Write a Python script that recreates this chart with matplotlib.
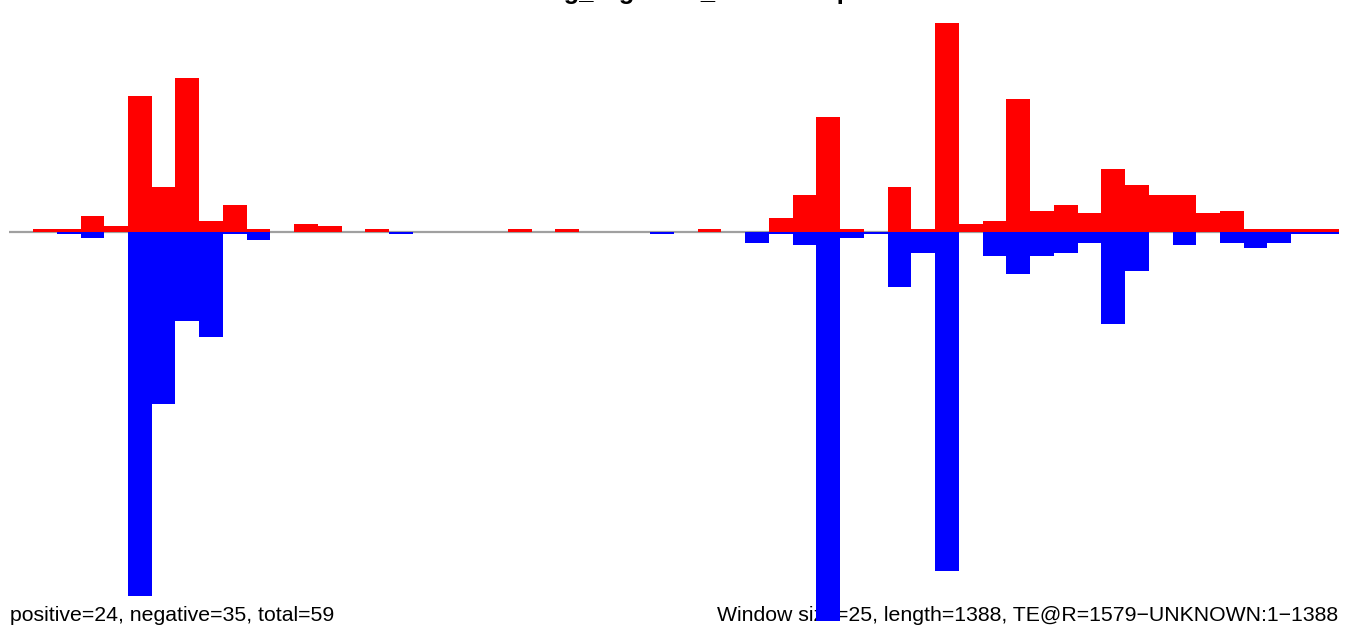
import matplotlib
matplotlib.use("Agg")
import matplotlib.pyplot as plt
import numpy as np

plt.rcParams['font.family'] = ['Liberation Sans', 'DejaVu Sans']

window_size = 25
seq_length = 1388

# positive-strand signal per window (red, above zero)
positive = [0, 1, 1, 5.6, 2.1, 47.7, 15.7, 53.9, 3.75, 9.4,
            1, 0, 2.7, 2.0, 0, 1, 0, 0, 0, 0,
            0, 1, 0, 1, 0, 0, 0, 0, 0, 1,
            0, 0, 4.8, 12.9, 40.2, 1, 0, 15.7, 1, 73.2,
            2.7, 3.75, 46.6, 7.3, 9.4, 6.6, 22.0, 16.4, 12.9, 12.9,
            6.6, 7.3, 1, 1, 1, 1]
# negative-strand signal per window (blue, below zero)
negative = [0, 0, 1, 2.1, 0, 128.0, 60.4, 31.2, 36.8, 1,
            2.9, 0, 0, 0, 0, 0, 1, 0, 0, 0,
            0, 0, 0, 0, 0, 0, 0, 1, 0, 0,
            0, 4.0, 1, 4.6, 136.5, 2.1, 1, 19.3, 7.4, 119.0,
            0, 8.4, 14.7, 8.4, 7.4, 3.9, 32.3, 13.7, 0, 4.6,
            0, 3.9, 5.6, 3.9, 1, 1]

title = "Strong_BigHitsA_TEbinsmap"
left_note = "positive=24, negative=35, total=59"
right_note = "Window size=25, length=1388, TE@R=1579\u2212UNKNOWN:1\u22121388"

W, H = 1350, 634
fig = plt.figure(figsize=(W / 100, H / 100), dpi=100)
ax = fig.add_axes([9.3 / W, 1 - 620.7 / H, (1338.7 - 9.3) / W, (620.7 - 23) / H])
ax.patch.set_visible(False)

starts = np.arange(len(positive)) * window_size
pos = np.array(positive)
neg = -np.array(negative)

ax.axhline(0, color='#a0a0a0', lw=1.6, zorder=1)
ax.bar(starts, pos, width=window_size, align='edge', color='#ff0000', lw=0, zorder=2)
ax.bar(starts, neg, width=window_size, align='edge', color='#0000ff', lw=0, zorder=2)

ax.set_xlim(0, len(positive) * window_size)
ax.set_ylim(neg.min(), pos.max())
ax.axis('off')

fs = 21.3 * 72 / 100
ax.text(10 / W, 1 - 621 / H, left_note, transform=fig.transFigure, fontsize=fs,
        ha='left', va='baseline', zorder=0, clip_on=False)
ax.text(1338 / W, 1 - 621 / H, right_note, transform=fig.transFigure, fontsize=fs,
        ha='right', va='baseline', zorder=0, clip_on=False)
fig.text(0.5, 1 + 1.5 / H, title, fontsize=fs * 1.2, fontweight='bold',
         ha='center', va='baseline')

fig.savefig("out.png", dpi=100)
